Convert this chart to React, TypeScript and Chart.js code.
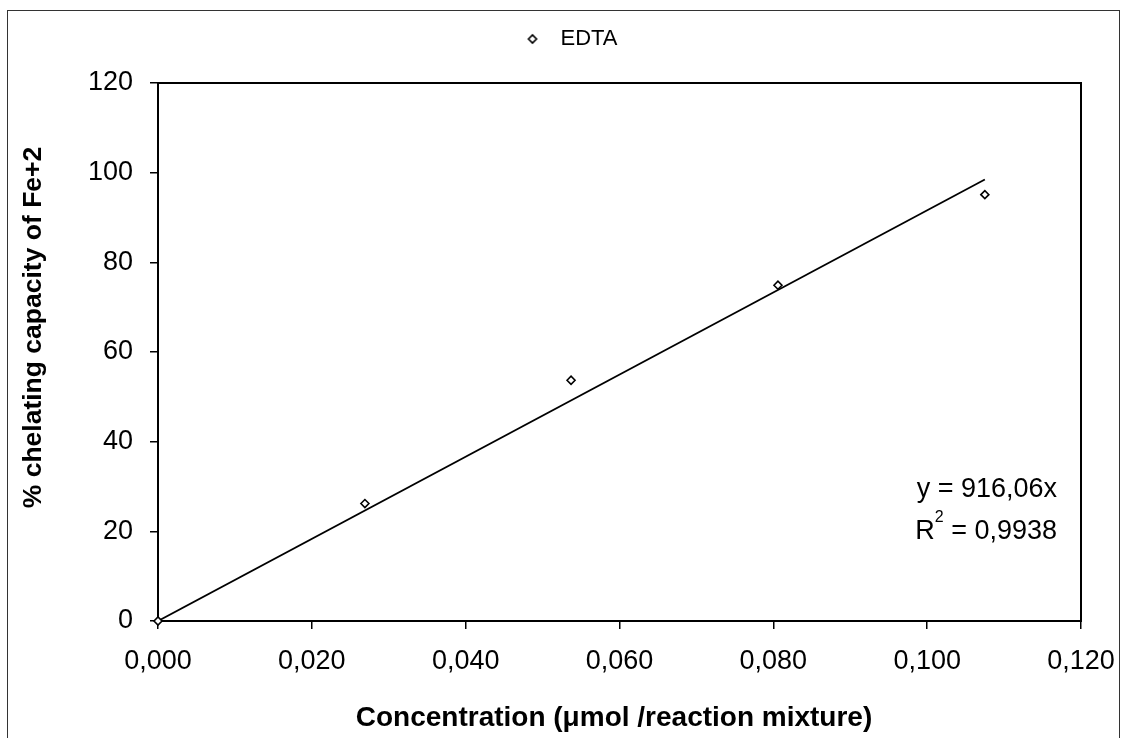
import React, { useEffect, useRef } from 'react';
import { Chart, registerables } from 'chart.js';

Chart.register(...registerables);

const SERIES_NAME = 'EDTA';
const CONCENTRATION = [0, 0.0269, 0.0537, 0.0806, 0.1075];
const CHELATING = [0, 26.2, 53.7, 74.9, 95.1];
const TREND_SLOPE = 916.06;
const EQUATION = 'y = 916,06x';
const R_SQUARED = '0,9938';
const X_TICKS = [0, 0.02, 0.04, 0.06, 0.08, 0.1, 0.12];
const Y_TICKS = [0, 20, 40, 60, 80, 100, 120];
const X_TITLE = 'Concentration (\u03bcmol /reaction mixture)';
const Y_TITLE = '% chelating capacity of Fe+2';

const FONT = '"Liberation Sans", Arial, Helvetica, sans-serif';

const plotFrame = {
  id: 'plotFrame',
  beforeDatasetsDraw(chart: any) {
    const { ctx, chartArea: a } = chart;
    ctx.save();
    ctx.strokeStyle = '#000';
    ctx.lineWidth = 2;
    ctx.strokeRect(a.left, a.top, a.right - a.left, a.bottom - a.top);
    ctx.restore();
  },
  afterDraw(chart: any) {
    const { ctx, chartArea: a } = chart;
    ctx.save();
    ctx.fillStyle = '#000';
    ctx.textBaseline = 'middle';

    // axis titles
    ctx.font = `bold 28px ${FONT}`;
    ctx.textAlign = 'center';
    ctx.fillText(X_TITLE, a.left + 456, a.bottom + 97);
    ctx.save();
    ctx.font = `bold 26.5px ${FONT}`;
    ctx.translate(a.left - 124, a.top + 244.5);
    ctx.rotate(-Math.PI / 2);
    ctx.fillText(Y_TITLE, 0, 0);
    ctx.restore();

    // trendline label
    const rx = a.right - 24;
    ctx.font = `27px ${FONT}`;
    ctx.textAlign = 'right';
    ctx.fillText(EQUATION, rx, a.bottom - 131);
    const y2 = a.bottom - 89.5;
    const rest = ' = ' + R_SQUARED;
    const wRest = ctx.measureText(rest).width;
    const wR = ctx.measureText('R').width;
    ctx.font = `16px ${FONT}`;
    const w2 = ctx.measureText('2').width;
    ctx.textAlign = 'left';
    const x0 = rx - wRest - w2 - wR;
    ctx.fillText('2', x0 + wR, y2 - 14);
    ctx.font = `27px ${FONT}`;
    ctx.fillText('R', x0, y2);
    ctx.fillText(rest, x0 + wR + w2, y2);
    ctx.restore();
  },
};

export default function App() {
  const ref = useRef<HTMLCanvasElement | null>(null);

  useEffect(() => {
    if (!ref.current) return;
    const marker = document.createElement('canvas');
    marker.width = 24;
    marker.height = 12;
    const mc = marker.getContext('2d')!;
    mc.strokeStyle = '#000';
    mc.fillStyle = '#fff';
    mc.lineWidth = 1.6;
    mc.beginPath();
    mc.moveTo(14, 6);
    mc.lineTo(18, 2);
    mc.lineTo(22, 6);
    mc.lineTo(18, 10);
    mc.closePath();
    mc.fill();
    mc.stroke();

    const last = CONCENTRATION[CONCENTRATION.length - 1];
    const points = CONCENTRATION.map((x, i) => ({ x, y: CHELATING[i] }));
    const trend = [
      { x: 0, y: 0 },
      { x: last, y: TREND_SLOPE * last },
    ];

    const chart = new Chart(ref.current, {
      type: 'scatter',
      data: {
        datasets: [
          {
            label: SERIES_NAME,
            data: points,
            pointStyle: 'rectRot',
            pointRadius: 4,
            pointBorderWidth: 1.6,
            pointBackgroundColor: '#fff',
            pointBorderColor: '#000',
            backgroundColor: '#fff',
            borderColor: '#000',
            showLine: false,
            clip: false as any,
            order: 1,
          },
          {
            type: 'line' as any,
            label: 'Trend',
            data: trend,
            borderColor: '#000',
            borderWidth: 1.8,
            pointRadius: 0,
            fill: false,
            order: 2,
          },
        ],
      },
      options: {
        responsive: false,
        animation: false,
        layout: { padding: 0 },
        plugins: {
          tooltip: { enabled: false },
          legend: {
            display: true,
            position: 'top',
            labels: {
              usePointStyle: true,
              pointStyle: marker as any,
              pointStyleWidth: 46,
              padding: 28,
              color: '#000',
              font: { family: FONT, size: 22 },
              filter: (item: any) => item.datasetIndex === 0,
            },
          },
          title: {
            display: true,
            text: '',
            weight: 100,
            font: { size: 10 },
            padding: { top: 0, bottom: 11 },
          } as any,
        },
        scales: {
          x: {
            type: 'linear',
            min: 0,
            max: 0.12,
            afterBuildTicks: (scale: any) => {
              scale.ticks = X_TICKS.map((v) => ({ value: v }));
            },
            afterFit: (scale: any) => {
              scale.height = 117;
              scale.paddingRight = 40;
            },
            grid: {
              drawOnChartArea: false,
              drawTicks: true,
              tickLength: 8,
              color: '#000',
              lineWidth: 1.5,
            },
            border: { display: true, color: '#000', width: 2 },
            ticks: {
              padding: 16,
              color: '#000',
              font: { family: FONT, size: 27 },
              maxRotation: 0,
              autoSkip: false,
              callback: (v: any) => Number(v).toFixed(3).replace('.', ','),
            },
            title: { display: false, text: X_TITLE },
          },
          y: {
            type: 'linear',
            min: 0,
            max: 120,
            afterBuildTicks: (scale: any) => {
              scale.ticks = Y_TICKS.map((v) => ({ value: v }));
            },
            afterFit: (scale: any) => {
              scale.width = 158;
            },
            grid: {
              drawOnChartArea: false,
              drawTicks: true,
              tickLength: 8,
              color: '#000',
              lineWidth: 1.5,
            },
            border: { display: true, color: '#000', width: 2 },
            ticks: {
              padding: 17,
              color: '#000',
              font: { family: FONT, size: 27 },
              autoSkip: false,
              callback: (v: any) => String(v),
            },
            title: { display: false, text: Y_TITLE },
          },
        },
      },
      plugins: [plotFrame],
    } as any);
    return () => chart.destroy();
  }, []);

  return (
    <div
      style={{
        position: 'fixed',
        left: 0,
        top: 0,
        width: 1121,
        height: 738,
        overflow: 'hidden',
        background: '#fff',
      }}
    >
      <div
        style={{
          position: 'absolute',
          left: 7,
          top: 10,
          width: 1111,
          height: 800,
          border: '1px solid #333',
        }}
      />
      <canvas
        ref={ref}
        width={1121}
        height={738}
        style={{ position: 'absolute', left: 0, top: 0, display: 'block' }}
      />
    </div>
  );
}
